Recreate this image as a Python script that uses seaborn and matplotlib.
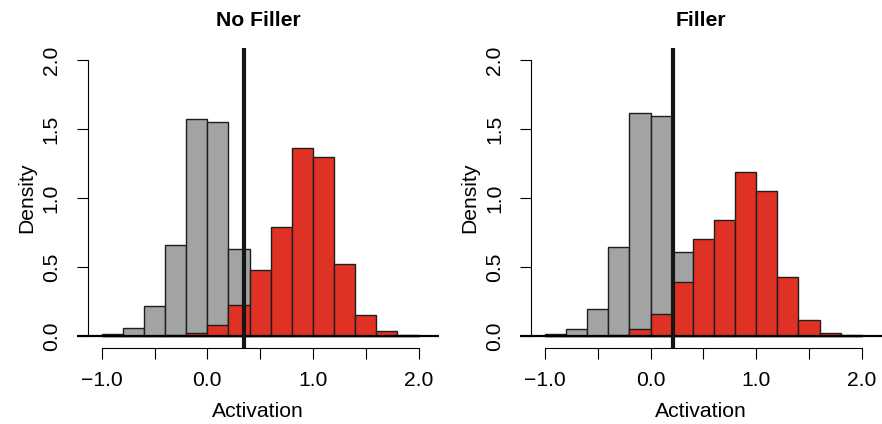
import matplotlib
matplotlib.use("Agg")
import matplotlib.pyplot as plt
import seaborn as sns

# histogram bins (Activation) and densities
bin_edges = [-1.0, -0.8, -0.6, -0.4, -0.2, 0.0, 0.2, 0.4, 0.6, 0.8,
             1.0, 1.2, 1.4, 1.6, 1.8, 2.0]
bin_mids = [-0.9, -0.7, -0.5, -0.3, -0.1, 0.1, 0.3, 0.5, 0.7, 0.9,
            1.1, 1.3, 1.5, 1.7, 1.9]

no_filler_gray = [0.015, 0.06, 0.216, 0.66, 1.571, 1.549, 0.633, 0.22,
                  0.06, 0.015, 0.0, 0.0, 0.0, 0.0, 0.0]
no_filler_red = [0.0, 0.0, 0.0, 0.005, 0.022, 0.08, 0.223, 0.478,
                 0.79, 1.362, 1.295, 0.524, 0.148, 0.036, 0.007]
filler_gray = [0.01, 0.051, 0.196, 0.644, 1.615, 1.595, 0.605, 0.2,
               0.06, 0.02, 0.0, 0.0, 0.0, 0.0, 0.0]
filler_red = [0.0, 0.0, 0.0, 0.007, 0.048, 0.162, 0.392, 0.70,
              0.84, 1.189, 1.051, 0.424, 0.114, 0.024, 0.005]

cutoffs = [0.345, 0.21]
titles = ["No Filler", "Filler"]

x_ticks = [-1.0, -0.5, 0.0, 0.5, 1.0, 1.5, 2.0]
x_labels = ["\u22121.0", "", "0.0", "", "1.0", "", "2.0"]
y_ticks = [0.0, 0.5, 1.0, 1.5, 2.0]
y_labels = ["0.0", "0.5", "1.0", "1.5", "2.0"]

gray_col = "#a2a3a3"
red_col = "#df3224"
edge_col = "#1e1e1e"

sns.set_theme(style="white")
plt.rcParams["font.family"] = ["Liberation Sans", "DejaVu Sans"]
fs = 15.2

fig = plt.figure(figsize=(8.82, 4.24), dpi=100)
W, H = 882, 424
positions = [
    [77 / W, 1 - 348 / H, 362 / W, 300 / H],
    [520.3 / W, 1 - 348 / H, 362 / W, 300 / H],
]
panels = [(no_filler_gray, no_filler_red), (filler_gray, filler_red)]

for pos, (gray, red), cut, title in zip(positions, panels, cutoffs, titles):
    ax = fig.add_axes(pos)
    sns.histplot(x=bin_mids, weights=gray, bins=bin_edges, stat="count",
                 color=gray_col, alpha=1, edgecolor=edge_col, linewidth=1.0, ax=ax)
    sns.histplot(x=bin_mids, weights=red, bins=bin_edges, stat="count",
                 color=red_col, alpha=1, edgecolor=edge_col, linewidth=1.0, ax=ax)
    ax.axhline(0, color="black", lw=1.6, zorder=3)
    ax.axvline(cut, color="#151515", lw=3.0, zorder=4)

    ax.set_xlim(-1.234, 2.194)
    ax.set_ylim(-0.088, 2.088)

    for s in ["top", "right"]:
        ax.spines[s].set_visible(False)
    ax.spines["left"].set_position(("data", -1.128))
    ax.spines["left"].set_bounds(0, 2)
    ax.spines["bottom"].set_bounds(-1, 2)
    for s in ["left", "bottom"]:
        ax.spines[s].set_color("black")
        ax.spines[s].set_linewidth(0.8)

    ax.set_xticks(x_ticks)
    ax.set_xticklabels(x_labels)
    ax.set_yticks(y_ticks)
    ax.set_yticklabels(y_labels, rotation=90, va="center")
    ax.tick_params(axis="both", direction="out", length=7.9, width=0.8,
                   color="black", labelsize=fs, labelcolor="black",
                   bottom=True, left=True)
    ax.tick_params(axis="x", pad=9)
    ax.tick_params(axis="y", pad=11.8)

    ax.set_xlabel("Activation", fontsize=fs, labelpad=8.6, color="black")
    ax.set_ylabel("Density", fontsize=fs, labelpad=4.2, color="black")
    ax.set_title(title, fontsize=fs, fontweight="bold", pad=15.5, color="black")

fig.savefig("out.png", dpi=100)
